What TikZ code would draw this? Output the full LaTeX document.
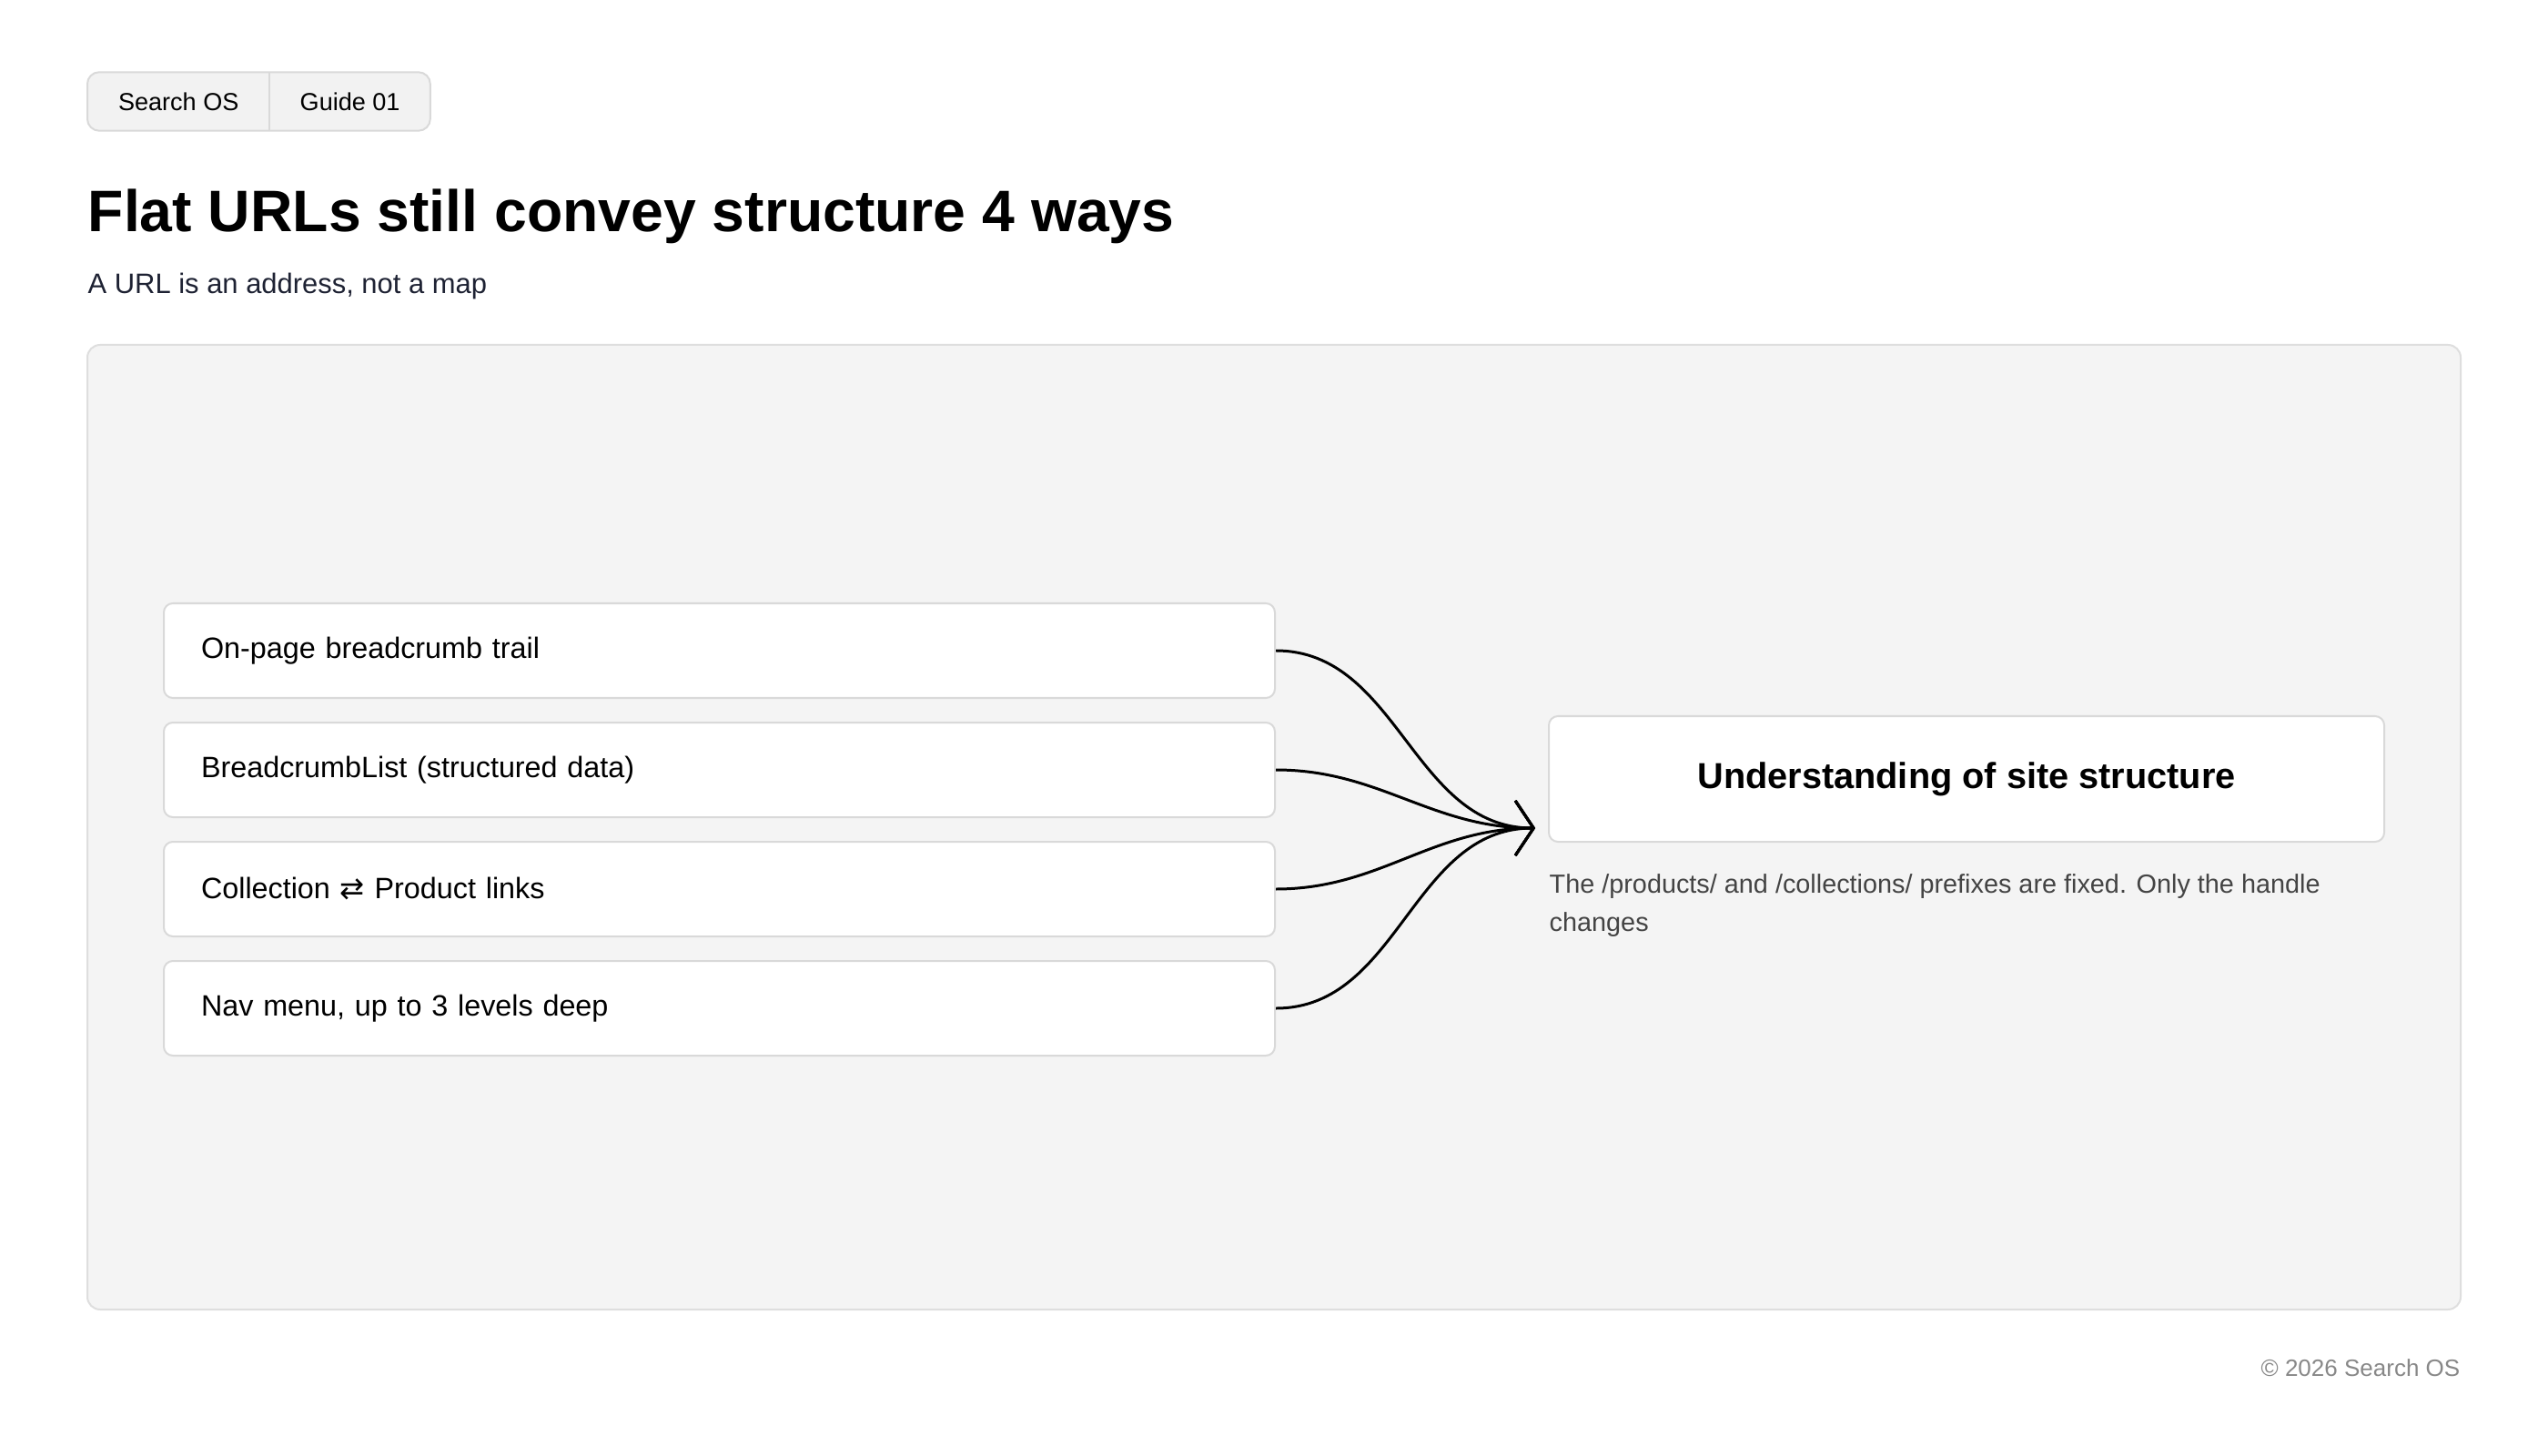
\documentclass[tikz,border=0pt]{standalone}
\usepackage{fontspec}
\setmainfont{Liberation Sans}
\newfontfamily\symfont{DejaVu Sans}
\usetikzlibrary{positioning,arrows.meta,backgrounds}
\definecolor{panelbg}{HTML}{F4F4F4}
\definecolor{panelline}{HTML}{DEDEDE}
\definecolor{boxline}{HTML}{D9D9D9}
\definecolor{tagbg}{HTML}{F2F2F2}
\definecolor{subtext}{HTML}{1E2233}
\definecolor{notetext}{HTML}{444444}
\definecolor{foottext}{HTML}{888888}
\begin{document}
\begin{tikzpicture}[
  tag/.style={rectangle, minimum height=0.63cm, inner sep=0pt, font=\fontsize{7.7}{9}\selectfont},
  itembox/.style={rectangle, rounded corners=0.1cm, draw=boxline, line width=0.57pt, fill=white, minimum height=1.04cm, text width=11.39cm, inner xsep=0.41cm, align=left, anchor=north west, font=\fontsize{9.2}{11}\selectfont},
  goalbox/.style={rectangle, rounded corners=0.1cm, draw=boxline, line width=0.57pt, fill=white, minimum width=9.18cm, minimum height=1.38cm, font=\bfseries\fontsize{11.3}{13}\selectfont},
  link/.style={-{Straight Barb[length=2mm,width=6mm]}, line width=0.85pt, out=0, in=180}
]
\useasboundingbox (0,0) rectangle (28,-16);
\begin{scope}[on background layer]
\fill[white] (0,0) rectangle (28,-16);
\end{scope}

% Шапка
\node (tagsearch) [tag, minimum width=1.99cm, anchor=west] at (0.96,-1.115) {Search OS};
\node (tagguide) [tag, minimum width=1.75cm, right=0cm of tagsearch] {Guide 01};
\begin{scope}[on background layer]
\draw[draw=boxline, fill=tagbg, line width=0.57pt, rounded corners=0.13cm] (tagsearch.north west) rectangle (tagguide.south east);
\draw[draw=boxline, line width=0.57pt] (tagsearch.north east) -- (tagsearch.south east);
\end{scope}

\node (title) [anchor=base west, inner sep=0pt, font=\bfseries\fontsize{18.3}{22}\selectfont] at (0.96,-2.55) {Flat URLs still convey structure 4 ways};
\node (subtitle) [anchor=base west, inner sep=0pt, text=subtext, font=\fontsize{8.8}{11}\selectfont] at (0.96,-3.23) {A URL is an address, not a map};

% Панель
\draw[fill=panelbg, draw=panelline, line width=0.57pt, rounded corners=0.14cm] (0.96,-3.79) rectangle (27.04,-14.39);

% Источники
\node (crumbs) [itembox] at (1.79,-6.62) {On-page breadcrumb trail};
\node (schema) [itembox, below=0.25cm of crumbs] {BreadcrumbList (structured data)};
\node (links) [itembox, below=0.25cm of schema] {Collection {\symfont ⇄} Product links};
\node (navmenu) [itembox, below=0.25cm of links] {Nav menu, up to 3 levels deep};

% Цель
\node (goal) [goalbox] at (21.61,-8.56) {Understanding of site structure};
\node (note) [anchor=north west, inner sep=0pt, align=left, text=notetext, font=\fontsize{8.2}{12}\selectfont] at (17.02,-9.60) {The /products/ and /collections/ prefixes are fixed. Only the handle\\changes};
\coordinate (hub) at (16.87,-9.10);

\draw[link] (crumbs.east) to (hub);
\draw[link] (schema.east) to (hub);
\draw[link] (links.east) to (hub);
\draw[link] (navmenu.east) to (hub);

% Подвал
\node (footer) [anchor=base east, inner sep=0pt, text=foottext, font=\fontsize{7.4}{9}\selectfont] at (27.04,-15.12) {© 2026 Search OS};

\end{tikzpicture}
\end{document}
